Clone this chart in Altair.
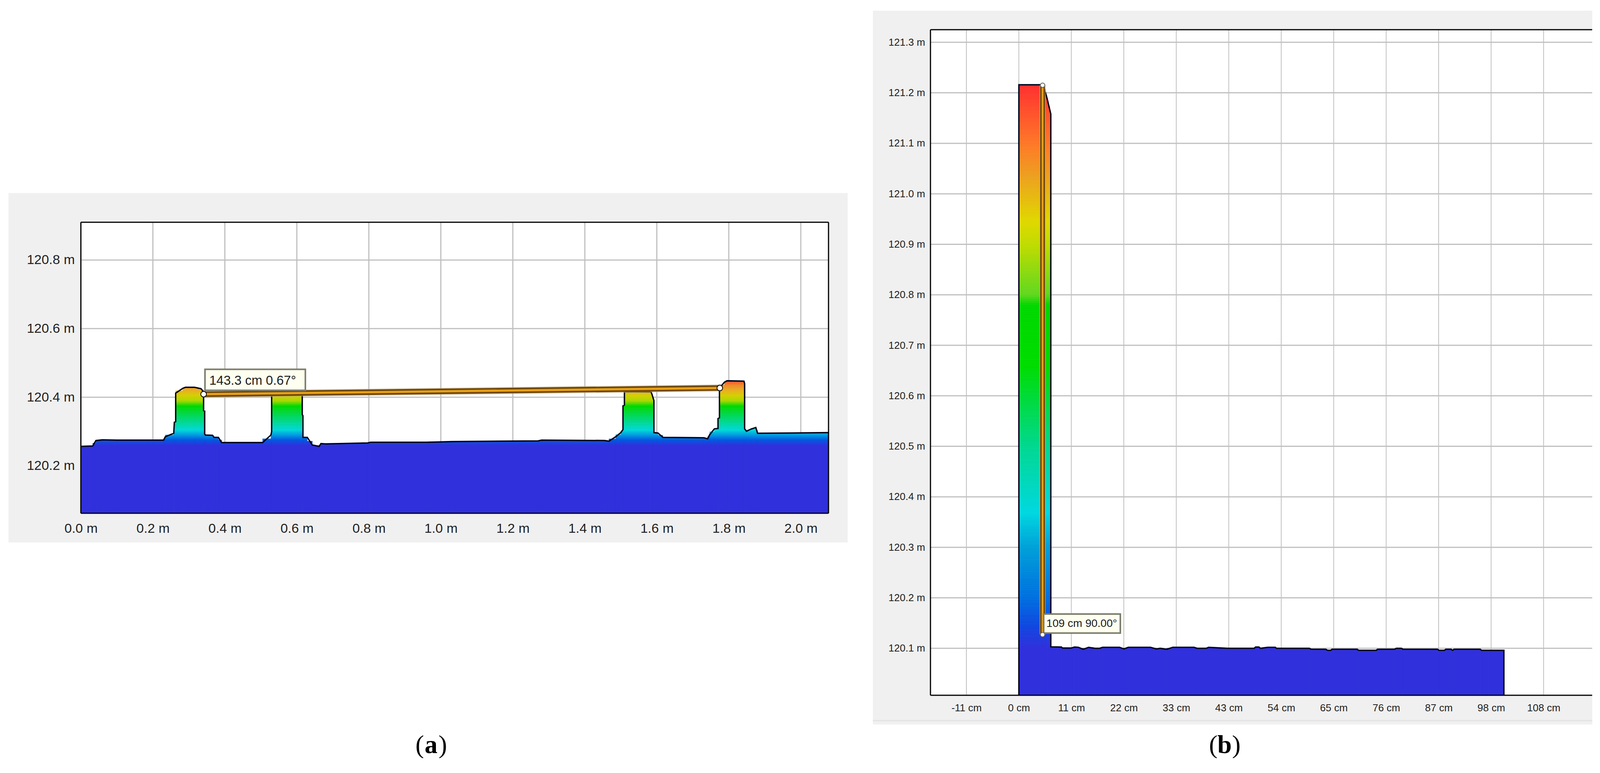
import altair as alt
import pandas as pd

# ---------- panel (a) ----------
a_x = [0, .033, .042, .06, .10, .186, .230, .2346, .258, .2597, .2634, .2634, .283, .2905, .3157, .3337, .341, .341,
       .344, .344, .346, .366, .37, .382, .391, .505, .528, .530, .530, .615, .615, .617, .617, .629, .643, .662, .667,
       .68, .797, .805, .964, 1.031, 1.27, 1.28, 1.455, 1.467, 1.486, 1.50, 1.506, 1.506, 1.51, 1.51, 1.584, 1.588,
       1.592, 1.592, 1.603, 1.617, 1.731, 1.741, 1.747, 1.76, 1.77, 1.77, 1.774, 1.774, 1.788, 1.795, 1.842, 1.844,
       1.844, 1.849, 1.861, 1.875, 1.88, 2.077]
a_y = [120.257, 120.258, 120.274, 120.276, 120.275, 120.275, 120.275, 120.285, 120.295, 120.327, 120.329, 120.412,
       120.426, 120.429, 120.429, 120.425, 120.416, 120.361, 120.360, 120.293, 120.290, 120.289, 120.283, 120.283,
       120.268, 120.268, 120.290, 120.300, 120.410, 120.410, 120.350, 120.346, 120.283, 120.283, 120.261, 120.257,
       120.265, 120.264, 120.267, 120.269, 120.269, 120.271, 120.273, 120.275, 120.274, 120.272, 120.285, 120.297,
       120.306, 120.375, 120.377, 120.416, 120.416, 120.404, 120.390, 120.297, 120.296, 120.283, 120.282, 120.279,
       120.291, 120.308, 120.309, 120.338, 120.340, 120.427, 120.444, 120.448, 120.447, 120.440, 120.308, 120.301,
       120.307, 120.312, 120.295, 120.297]
a_xticks = [0.0, 0.2, 0.4, 0.6, 0.8, 1.0, 1.2, 1.4, 1.6, 1.8, 2.0]
a_yticks = [120.2, 120.4, 120.6, 120.8]
a_xdomain = [0, 2.077]
a_ydomain = [120.062, 120.91]
a_measure_x = [0.341, 1.775]
a_measure_y = [120.409, 120.427]
a_label = "143.3 cm 0.67°"
a_height_stops = [120.448, 120.435, 120.42, 120.405, 120.39, 120.375, 120.35, 120.305, 120.288, 120.276, 120.26]
a_colors = ["#f5502c", "#ee8c2c", "#e8b020", "#d4d000", "#a8d800", "#00d800", "#00d850", "#00d8d8", "#0090e0",
            "#0058e0", "#3030dc"]
a_band = 0.002

# ---------- panel (b) ----------
b_x = [0, 0, 4.4, 4.9, 5.5, 5.8, 6.1, 6.4, 6.6, 6.6, 8.8, 9.0, 10.8, 11.5, 12.3, 13.3, 14.4, 15.7, 16.7, 17.3, 20.8,
       21.7, 22.6, 27.2, 28.4, 29.2, 30.5, 31.8, 36.2, 36.8, 38.7, 39.2, 43.1, 48.6, 48.9, 49.6, 49.9, 51.4, 53, 53.2,
       60, 60.4, 63.4, 63.8, 64.4, 64.7, 69.9, 70.2, 73.8, 74.1, 77.6, 78.0, 79, 79.4, 86.5, 86.8, 87.9, 88.2, 89.3,
       89.6, 89.9, 95.3, 95.6, 97, 100, 100.2, 100.2]
b_y = [120.007, 121.216, 121.216, 121.215, 121.200, 121.190, 121.178, 121.166, 121.158, 120.103, 120.1026, 120.1005,
       120.1005, 120.1025, 120.102, 120.098, 120.102, 120.100, 120.100, 120.102, 120.102, 120.0987, 120.102, 120.102,
       120.0987, 120.100, 120.098, 120.102, 120.102, 120.100, 120.100, 120.102, 120.100, 120.100, 120.1026, 120.1026,
       120.100, 120.102, 120.102, 120.100, 120.100, 120.098, 120.098, 120.096, 120.096, 120.098, 120.098, 120.096,
       120.096, 120.098, 120.098, 120.100, 120.100, 120.098, 120.098, 120.096, 120.096, 120.098, 120.098, 120.096,
       120.098, 120.098, 120.096, 120.096, 120.096, 120.096, 120.007]
b_xticks = [-10.84, 0, 10.84, 21.68, 32.52, 43.36, 54.2, 65.04, 75.88, 86.72, 97.56, 108.4]
b_yticks = [120.1, 120.2, 120.3, 120.4, 120.5, 120.6, 120.7, 120.8, 120.9, 121.0, 121.1, 121.2, 121.3]
b_xdomain = [-18.26, 118.44]
b_ydomain = [120.007, 121.325]
b_measure_x = [4.9, 4.9]
b_measure_y = [121.215, 120.127]
b_label = "109 cm 90.00°"
b_height_stops = [121.216, 121.1, 121.035, 120.945, 120.9, 120.8, 120.78, 120.66, 120.5, 120.37, 120.3, 120.2, 120.145,
                  120.1]
b_colors = ["#ff3030", "#ff7828", "#eda020", "#e0d800", "#c0dc00", "#60d820", "#00d800", "#00dc00", "#00d890", "#00d8e0",
            "#00a0d8", "#0070e0", "#1048e0", "#3030dc"]
b_band = 0.004

FONT = "Liberation Sans"
PANEL = "#f0f0f0"
GRID = "#c0c0c0"
INK = "#1f1f1f"
S = 0.996


def px(v):
    return v * S


def rgb(h):
    return tuple(int(h[i:i + 2], 16) for i in (1, 3, 5))


def colour_at(v, stops, colors):
    if v >= stops[0]:
        return colors[0]
    for k in range(len(stops) - 1):
        hi, lo = stops[k], stops[k + 1]
        if lo <= v <= hi:
            t = (hi - v) / (hi - lo)
            a, b = rgb(colors[k]), rgb(colors[k + 1])
            return "#%02x%02x%02x" % tuple(round(a[j] + (b[j] - a[j]) * t) for j in range(3))
    return colors[-1]


def height_cells(xs, ys, stops, colors, step, floor):
    """One cell per profile column and colour step, coloured by height like the scanner's ramp."""
    rows = []
    bottom = stops[-1]
    for i in range(len(xs) - 1):
        x0, x1 = xs[i], xs[i + 1]
        if x1 <= x0:
            continue
        top = (ys[i] + ys[i + 1]) / 2
        rows.append(dict(x0=x0, x1=x1, y0=floor, y1=min(top, bottom), c=colors[-1]))
        lo = bottom
        while lo < top:
            hi = min(lo + step, top)
            rows.append(dict(x0=x0, x1=x1, y0=lo, y1=hi, c=colour_at(lo + step / 2, stops, colors)))
            lo += step
    return pd.DataFrame(rows)


def fixed(mark, **chan):
    """Decoration placed in the panel's own pixel space."""
    return alt.Chart(pd.DataFrame({"k": [0]})).mark_rect(**mark).encode(
        **{k: alt.value(v) for k, v in chan.items()})


def caption(letter, cx, cy):
    base = alt.Chart(pd.DataFrame({"k": [0]}))
    kw = dict(font="Liberation Serif", fontSize=66, baseline="middle", color="#000000")
    return [
        base.mark_text(text="(", align="right", **kw).encode(x=alt.value(px(cx) - 18), y=alt.value(px(cy))),
        base.mark_text(text=letter, align="center", fontWeight="bold", **kw).encode(x=alt.value(px(cx)), y=alt.value(px(cy))),
        base.mark_text(text=")", align="left", **kw).encode(x=alt.value(px(cx) + 19), y=alt.value(px(cy))),
    ]


def panel(xs, ys, xticks, yticks, xdomain, ydomain, mx, my, label, stops, colors, step, w, h, opt):
    df = pd.DataFrame({"x": xs, "y": ys, "i": range(len(xs))})
    cells = height_cells(xs, ys, stops, colors, step, ydomain[0])
    xs_ = alt.Scale(domain=xdomain, nice=False, zero=False)
    ys_ = alt.Scale(domain=ydomain, nice=False, zero=False)
    xaxis = alt.Axis(
        values=xticks, title=None, grid=False, ticks=False, domain=False, labelFont=FONT,
        labelFontSize=opt["font"], labelColor=INK, labelPadding=opt["xpad"], labelFlush=False, labelOverlap=False,
        labelExpr=opt["xexpr"], zindex=1)
    yaxis = alt.Axis(
        values=yticks, title=None, grid=False, ticks=False, domain=False, labelFont=FONT,
        labelFontSize=opt["font"], labelColor=INK, labelPadding=opt["ypad"], labelFlush=False, labelOverlap=False,
        labelExpr="format(datum.value,'.1f') + ' m'", zindex=1)
    xenc = alt.X("x:Q", scale=xs_, axis=xaxis)
    yenc = alt.Y("y:Q", scale=ys_, axis=yaxis)

    gray = fixed(dict(color=PANEL), x=px(opt["gx"][0]), x2=px(opt["gx"][1]), y=px(opt["gy"][0]), y2=px(opt["gy"][1]))
    white = fixed(dict(color="#ffffff"), x=0, x2=w, y=0, y2=h)
    vgrid = alt.Chart(pd.DataFrame({"x": xticks})).mark_rule(color=GRID, strokeWidth=opt["vgw"]).encode(x=xenc)
    hgrid = alt.Chart(pd.DataFrame({"y": yticks})).mark_rule(color=GRID, strokeWidth=3).encode(y=yenc)
    fill = alt.Chart(cells).mark_rect(strokeWidth=0.8).encode(
        x=alt.X("x0:Q", scale=xs_, axis=xaxis), x2="x1:Q",
        y=alt.Y("y1:Q", scale=ys_, axis=yaxis), y2="y0:Q",
        fill=alt.Fill("c:N", scale=None), stroke=alt.Stroke("c:N", scale=None))
    outline = alt.Chart(df).mark_line(color="#000018", strokeWidth=3.5, interpolate="linear").encode(
        x=xenc, y=yenc, order="i:Q")

    m = pd.DataFrame({"x": mx, "y": my, "i": [0, 1]})
    mbase = alt.Chart(m).encode(x=xenc, y=yenc, order="i:Q")
    halo = mbase.mark_line(color="#b8a888", strokeWidth=opt["lw"] + 4, opacity=0.6, strokeCap="butt")
    dark = mbase.mark_line(color="#6e4606", strokeWidth=opt["lw"], strokeCap="butt")
    core = mbase.mark_line(color="#e8a018", strokeWidth=opt["lw"] * 0.4, strokeCap="butt")
    dots = mbase.mark_point(filled=True, fill="#ffffff", stroke=opt["dot"], strokeWidth=2, size=opt["dsize"], opacity=1)

    tx, ty = opt["tip"]
    tip = fixed(dict(color="#fffff0", stroke="#7c7c6c", strokeWidth=4),
                x=px(tx[0]), x2=px(tx[1]), y=px(ty[0]), y2=px(ty[1]))
    tiptext = alt.Chart(pd.DataFrame({"t": [label]})).mark_text(
        align="left", baseline="middle", font=FONT, fontSize=opt["tfont"], color="#202020").encode(
        x=alt.value(px(opt["tt"][0])), y=alt.value(px(opt["tt"][1])), text="t:N")

    k = pd.DataFrame({"k": [0]})
    borders = [
        alt.Chart(k).mark_rule(color="#000000", strokeWidth=3).encode(x=alt.value(0), x2=alt.value(w), y=alt.value(0)),
        alt.Chart(k).mark_rule(color="#000000", strokeWidth=3).encode(x=alt.value(0), x2=alt.value(w), y=alt.value(h)),
        alt.Chart(k).mark_rule(color="#000000", strokeWidth=3).encode(y=alt.value(0), y2=alt.value(h), x=alt.value(0)),
    ]
    if opt["right"]:
        borders.append(alt.Chart(k).mark_rule(color="#000000", strokeWidth=3).encode(
            y=alt.value(0), y2=alt.value(h), x=alt.value(w)))
    extra = []
    if opt.get("stripe") is not None:
        extra.append(alt.Chart(k).mark_rule(color="#e2e2e2", strokeWidth=3).encode(
            x=alt.value(px(opt["gx"][0])), x2=alt.value(px(opt["gx"][1])), y=alt.value(px(opt["stripe"]))))

    layers = [gray] + extra + [white, vgrid, hgrid, fill, outline, halo, dark, core, tip, tiptext, dots] + borders \
        + caption(opt["letter"], *opt["cap"])
    return alt.layer(*layers).properties(width=w, height=h)


W_A, H_A = round(1922 * S), round(748 * S)
W_B, H_B = round(1701 * S), round(1711 * S)

a = panel(a_x, a_y, a_xticks, a_yticks, a_xdomain, a_ydomain, a_measure_x, a_measure_y, a_label,
          a_height_stops, a_colors, a_band, W_A, H_A, dict(
              font=34, xpad=22, ypad=16, vgw=3, lw=14, dot="#000000", dsize=210, right=True,
              xexpr="format(datum.value,'.1f') + ' m'",
              gx=(-186, 1971), gy=(-75, 823), tip=((319, 577), (378, 432)), tt=(330, 408), tfont=33,
              letter="a", cap=(900, 1344)))
b = panel(b_x, b_y, b_xticks, b_yticks, b_xdomain, b_ydomain, b_measure_x, b_measure_y, b_label,
          b_height_stops, b_colors, b_band, W_B, H_B, dict(
              font=26, xpad=19, ypad=14, vgw=2, lw=12, dot="#606060", dsize=130, right=False,
              xexpr="round(datum.value) + ' cm'",
              gx=(-148, 1701), gy=(-49, 1786), stripe=1776, tip=((291, 488), (1502, 1551)), tt=(298, 1527), tfont=28,
              letter="b", cap=(756, 1839)))

spacer = alt.Chart(pd.DataFrame({"k": [0]})).mark_point(opacity=0).encode(
    x=alt.value(0), y=alt.value(0)).properties(width=W_A, height=round(495 * S))

left = alt.vconcat(spacer, a, spacing=0, bounds="flush")
chart = alt.hconcat(left, b, spacing=W_A + round(262 * S), bounds="flush").properties(
    background="#ffffff",
    padding={"left": 13, "top": 19, "right": 0, "bottom": 0},
).configure_view(stroke=None)

alt.data_transformers.disable_max_rows()
chart.save("out.html", embed_options={"renderer": "svg", "actions": False})
